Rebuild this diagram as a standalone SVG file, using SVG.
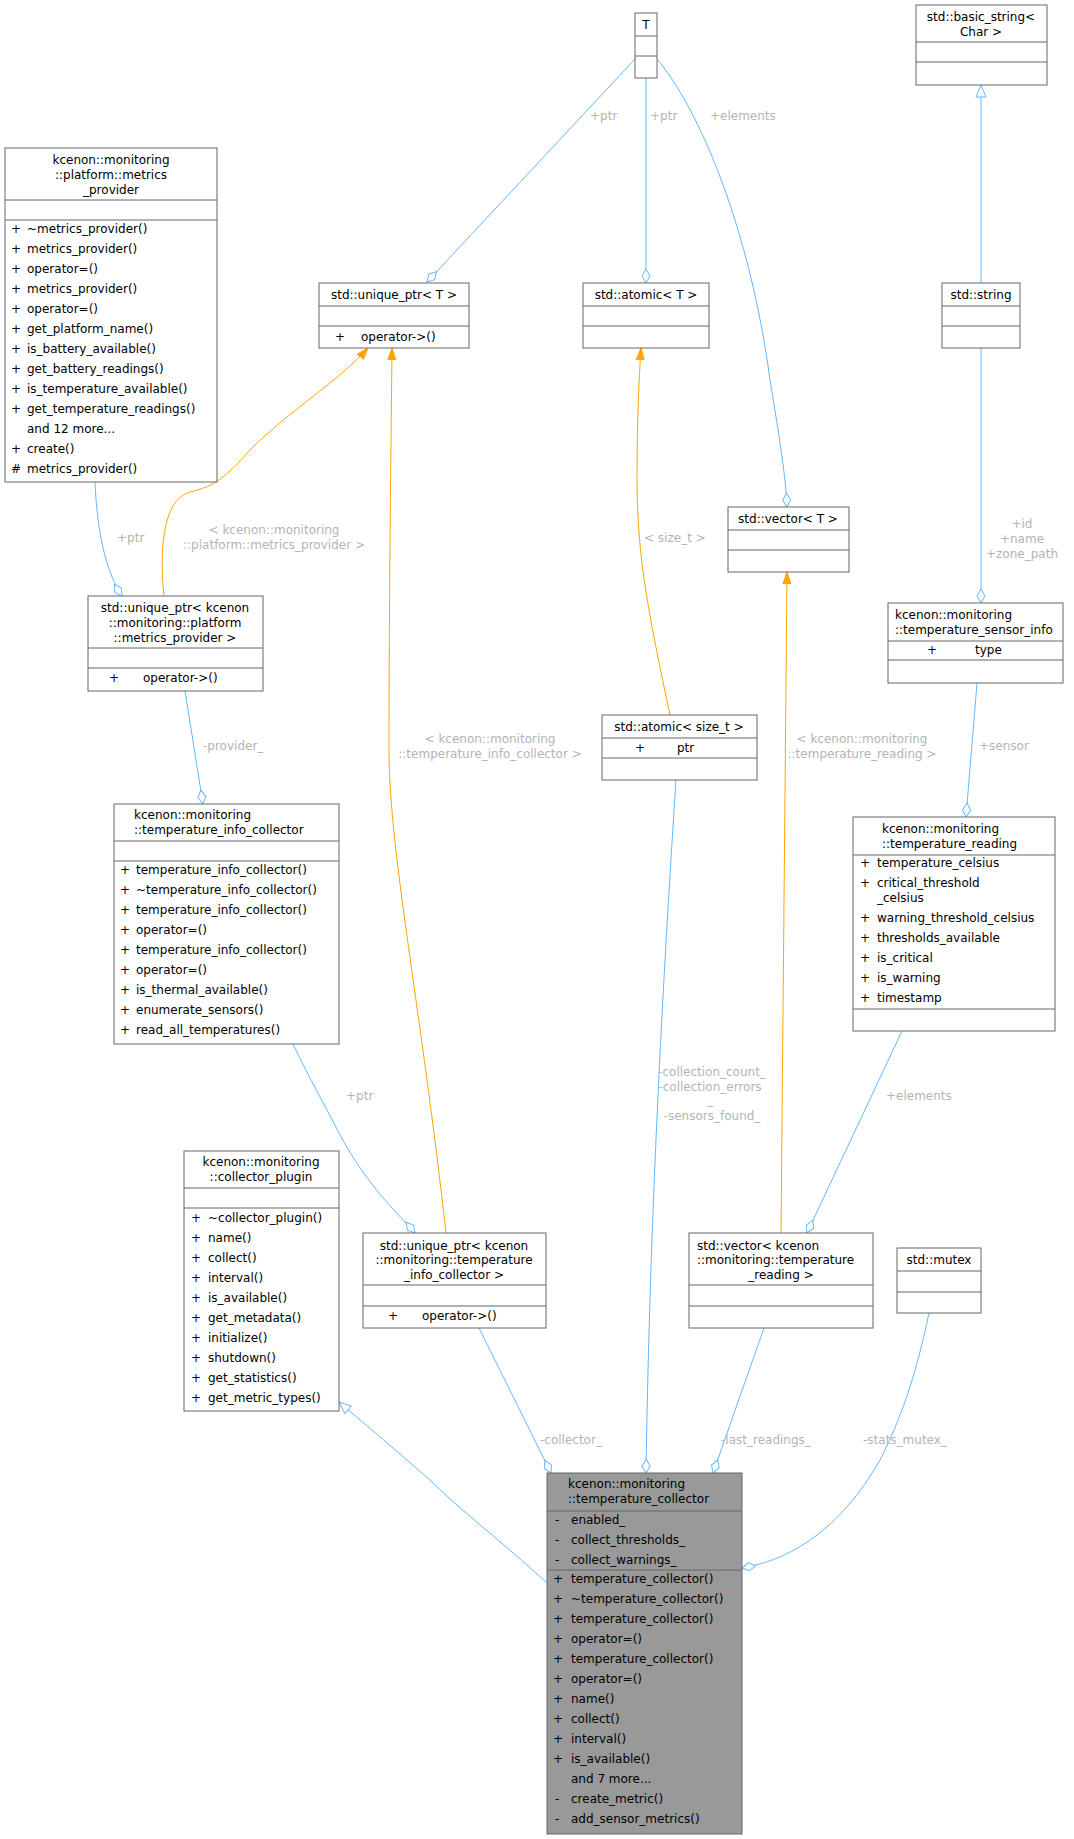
<svg xmlns="http://www.w3.org/2000/svg" width="1074" height="1839" viewBox="0 0 1074 1839">
<style>
text{font-family:"DejaVu Sans",sans-serif;font-size:12px;fill:#000}
.b{fill:#fff;stroke:#666;stroke-width:1}
.g{fill:#999;stroke:#666;stroke-width:1}
.s{stroke:#666;stroke-width:1}
.c{text-anchor:middle}
.lb{fill:#b4b4b4}
.e{fill:none;stroke:#63b8ff;stroke-width:1}
.o{fill:none;stroke:#ffa500;stroke-width:1}
</style>
<defs>
<marker id="dia" viewBox="0 0 16 10" refX="15" refY="5" markerWidth="16" markerHeight="10" markerUnits="userSpaceOnUse" orient="auto"><path d="M1,5 L8,1 L15,5 L8,9 Z" fill="#fff" stroke="#63b8ff"/></marker>
<marker id="tri" viewBox="0 0 12 10" refX="12" refY="5" markerWidth="12" markerHeight="10" markerUnits="userSpaceOnUse" orient="auto"><path d="M0,1 L12,5 L0,9 Z" fill="#ffa500" stroke="#ffa500"/></marker>
<marker id="inh" viewBox="0 0 14 12" refX="13" refY="6" markerWidth="14" markerHeight="12" markerUnits="userSpaceOnUse" orient="auto"><path d="M1,1 L13,6 L1,11 Z" fill="#fff" stroke="#63b8ff"/></marker>
</defs>
<g id="edges">
<path class="e" d="M635,59 L427,282" marker-end="url(#dia)"/>
<text class="lb" x="590" y="120">+ptr</text>
<path class="e" d="M646,78 L646,283" marker-end="url(#dia)"/>
<text class="lb" x="650" y="120">+ptr</text>
<path class="e" d="M657,59 C700,110 750,230 770,380 C780,440 786,480 787,507" marker-end="url(#dia)"/>
<text class="lb" x="710" y="120">+elements</text>
<path class="e" d="M981,283 L981,85" marker-end="url(#inh)"/>
<path class="e" d="M981,348 L981,603" marker-end="url(#dia)"/>
<text class="lb c" x="1022" y="528">+id</text>
<text class="lb c" x="1022" y="543">+name</text>
<text class="lb c" x="1022" y="558">+zone_path</text>
<path class="e" d="M95,482 C97,530 105,570 122,596" marker-end="url(#dia)"/>
<text class="lb" x="117" y="542">+ptr</text>
<path class="o" d="M164,596 C160,560 160,500 190,492 C215,486 225,478 250,450 C290,410 340,380 368,348" marker-end="url(#tri)"/>
<text class="lb c" x="274" y="534">&lt; kcenon::monitoring</text>
<text class="lb c" x="274" y="549">::platform::metrics_provider &gt;</text>
<path class="o" d="M446,1233 C420,1000 389,850 389,750 C389,600 391,450 392,348" marker-end="url(#tri)"/>
<text class="lb c" x="490" y="743">&lt; kcenon::monitoring</text>
<text class="lb c" x="490" y="758">::temperature_info_collector &gt;</text>
<path class="o" d="M670,715 C650,620 637,560 637,480 C637,420 639,380 641,348" marker-end="url(#tri)"/>
<text class="lb" x="644" y="542">&lt; size_t &gt;</text>
<path class="o" d="M781,1233 L787,572" marker-end="url(#tri)"/>
<text class="lb c" x="862" y="743">&lt; kcenon::monitoring</text>
<text class="lb c" x="862" y="758">::temperature_reading &gt;</text>
<path class="e" d="M185,691 L203,804" marker-end="url(#dia)"/>
<text class="lb" x="203" y="750">-provider_</text>
<path class="e" d="M977,683 L966,817" marker-end="url(#dia)"/>
<text class="lb" x="979" y="750">+sensor</text>
<path class="e" d="M293,1044 C310,1080 325,1105 340,1135 C370,1190 400,1215 415,1233" marker-end="url(#dia)"/>
<text class="lb" x="346" y="1100">+ptr</text>
<path class="e" d="M902,1031 L807,1233" marker-end="url(#dia)"/>
<text class="lb" x="886" y="1100">+elements</text>
<path class="e" d="M676,780 C665,950 650,1200 646,1473" marker-end="url(#dia)"/>
<text class="lb c" x="712" y="1076">-collection_count_</text>
<text class="lb c" x="710" y="1091">-collection_errors</text>
<text class="lb c" x="710" y="1104">_</text>
<text class="lb c" x="712" y="1120">-sensors_found_</text>
<path class="e" d="M547,1583 C500,1540 460,1510 430,1480 C390,1445 360,1420 339,1402" marker-end="url(#inh)"/>
<path class="e" d="M479,1328 L551,1473" marker-end="url(#dia)"/>
<text class="lb" x="540" y="1444">-collector_</text>
<path class="e" d="M764,1328 L713,1473" marker-end="url(#dia)"/>
<text class="lb" x="721" y="1444">-last_readings_</text>
<path class="e" d="M929,1313 C915,1380 900,1420 880,1460 C840,1530 790,1560 742,1568" marker-end="url(#dia)"/>
<text class="lb" x="863" y="1444">-stats_mutex_</text>
</g>
<g id="T">
<rect class="b" x="635" y="13" width="22" height="65"/>
<line class="s" x1="635" y1="36" x2="657" y2="36"/><line class="s" x1="635" y1="56" x2="657" y2="56"/>
<text class="c" x="646" y="29">T</text>
</g>
<g id="basic_string">
<rect class="b" x="916" y="5" width="131" height="80"/>
<line class="s" x1="916" y1="42" x2="1047" y2="42"/><line class="s" x1="916" y1="62" x2="1047" y2="62"/>
<text class="c" x="981" y="21">std::basic_string&lt;</text>
<text class="c" x="981" y="36">Char &gt;</text>
</g>
<g id="metrics_provider">
<rect class="b" x="5" y="148" width="212" height="334"/>
<line class="s" x1="5" y1="200" x2="217" y2="200"/><line class="s" x1="5" y1="220" x2="217" y2="220"/>
<text class="c" x="111" y="164">kcenon::monitoring</text>
<text class="c" x="111" y="179">::platform::metrics</text>
<text class="c" x="111" y="194">_provider</text>
<text x="11" y="233">+</text><text x="27" y="233">~metrics_provider()</text>
<text x="11" y="253">+</text><text x="27" y="253">metrics_provider()</text>
<text x="11" y="273">+</text><text x="27" y="273">operator=()</text>
<text x="11" y="293">+</text><text x="27" y="293">metrics_provider()</text>
<text x="11" y="313">+</text><text x="27" y="313">operator=()</text>
<text x="11" y="333">+</text><text x="27" y="333">get_platform_name()</text>
<text x="11" y="353">+</text><text x="27" y="353">is_battery_available()</text>
<text x="11" y="373">+</text><text x="27" y="373">get_battery_readings()</text>
<text x="11" y="393">+</text><text x="27" y="393">is_temperature_available()</text>
<text x="11" y="413">+</text><text x="27" y="413">get_temperature_readings()</text>
<text x="27" y="433">and 12 more...</text>
<text x="11" y="453">+</text><text x="27" y="453">create()</text>
<text x="11" y="473">#</text><text x="27" y="473">metrics_provider()</text>
</g>
<g id="unique_ptr_T">
<rect class="b" x="319" y="283" width="150" height="65"/>
<line class="s" x1="319" y1="306" x2="469" y2="306"/><line class="s" x1="319" y1="326" x2="469" y2="326"/>
<text class="c" x="394" y="299">std::unique_ptr&lt; T &gt;</text>
<text x="335" y="341">+</text><text x="361" y="341">operator-&gt;()</text>
</g>
<g id="atomic_T">
<rect class="b" x="583" y="283" width="126" height="65"/>
<line class="s" x1="583" y1="306" x2="709" y2="306"/><line class="s" x1="583" y1="326" x2="709" y2="326"/>
<text class="c" x="646" y="299">std::atomic&lt; T &gt;</text>
</g>
<g id="string">
<rect class="b" x="942" y="283" width="78" height="65"/>
<line class="s" x1="942" y1="306" x2="1020" y2="306"/><line class="s" x1="942" y1="326" x2="1020" y2="326"/>
<text class="c" x="981" y="299">std::string</text>
</g>
<g id="vector_T">
<rect class="b" x="728" y="507" width="121" height="65"/>
<line class="s" x1="728" y1="530" x2="849" y2="530"/><line class="s" x1="728" y1="550" x2="849" y2="550"/>
<text class="c" x="788" y="523">std::vector&lt; T &gt;</text>
</g>
<g id="unique_ptr_mp">
<rect class="b" x="88" y="596" width="175" height="95"/>
<line class="s" x1="88" y1="648" x2="263" y2="648"/><line class="s" x1="88" y1="668" x2="263" y2="668"/>
<text class="c" x="175" y="612">std::unique_ptr&lt; kcenon</text>
<text class="c" x="175" y="627">::monitoring::platform</text>
<text class="c" x="175" y="642">::metrics_provider &gt;</text>
<text x="109" y="682">+</text><text x="143" y="682">operator-&gt;()</text>
</g>
<g id="temp_sensor_info">
<rect class="b" x="888" y="603" width="175" height="80"/>
<line class="s" x1="888" y1="641" x2="1063" y2="641"/><line class="s" x1="888" y1="660" x2="1063" y2="660"/>
<text x="895" y="619">kcenon::monitoring</text>
<text x="895" y="634">::temperature_sensor_info</text>
<text x="927" y="654">+</text><text x="975" y="654">type</text>
</g>
<g id="atomic_size_t">
<rect class="b" x="602" y="715" width="155" height="65"/>
<line class="s" x1="602" y1="738" x2="757" y2="738"/><line class="s" x1="602" y1="758" x2="757" y2="758"/>
<text class="c" x="679" y="731">std::atomic&lt; size_t &gt;</text>
<text x="635" y="752">+</text><text x="677" y="752">ptr</text>
</g>
<g id="temp_info_collector">
<rect class="b" x="114" y="804" width="225" height="240"/>
<line class="s" x1="114" y1="841" x2="339" y2="841"/><line class="s" x1="114" y1="861" x2="339" y2="861"/>
<text x="134" y="819">kcenon::monitoring</text>
<text x="134" y="834">::temperature_info_collector</text>
<text x="120" y="874">+</text><text x="136" y="874">temperature_info_collector()</text>
<text x="120" y="894">+</text><text x="136" y="894">~temperature_info_collector()</text>
<text x="120" y="914">+</text><text x="136" y="914">temperature_info_collector()</text>
<text x="120" y="934">+</text><text x="136" y="934">operator=()</text>
<text x="120" y="954">+</text><text x="136" y="954">temperature_info_collector()</text>
<text x="120" y="974">+</text><text x="136" y="974">operator=()</text>
<text x="120" y="994">+</text><text x="136" y="994">is_thermal_available()</text>
<text x="120" y="1014">+</text><text x="136" y="1014">enumerate_sensors()</text>
<text x="120" y="1034">+</text><text x="136" y="1034">read_all_temperatures()</text>
</g>
<g id="temp_reading">
<rect class="b" x="853" y="817" width="202" height="214"/>
<line class="s" x1="853" y1="855" x2="1055" y2="855"/><line class="s" x1="853" y1="1009" x2="1055" y2="1009"/>
<text x="882" y="833">kcenon::monitoring</text>
<text x="882" y="848">::temperature_reading</text>
<text x="860" y="867">+</text><text x="877" y="867">temperature_celsius</text>
<text x="860" y="887">+</text><text x="877" y="887">critical_threshold</text>
<text x="877" y="902">_celsius</text>
<text x="860" y="922">+</text><text x="877" y="922">warning_threshold_celsius</text>
<text x="860" y="942">+</text><text x="877" y="942">thresholds_available</text>
<text x="860" y="962">+</text><text x="877" y="962">is_critical</text>
<text x="860" y="982">+</text><text x="877" y="982">is_warning</text>
<text x="860" y="1002">+</text><text x="877" y="1002">timestamp</text>
</g>
<g id="collector_plugin">
<rect class="b" x="184" y="1151" width="155" height="260"/>
<line class="s" x1="184" y1="1188" x2="339" y2="1188"/><line class="s" x1="184" y1="1208" x2="339" y2="1208"/>
<text class="c" x="261" y="1166">kcenon::monitoring</text>
<text class="c" x="261" y="1181">::collector_plugin</text>
<text x="191" y="1222">+</text><text x="208" y="1222">~collector_plugin()</text>
<text x="191" y="1242">+</text><text x="208" y="1242">name()</text>
<text x="191" y="1262">+</text><text x="208" y="1262">collect()</text>
<text x="191" y="1282">+</text><text x="208" y="1282">interval()</text>
<text x="191" y="1302">+</text><text x="208" y="1302">is_available()</text>
<text x="191" y="1322">+</text><text x="208" y="1322">get_metadata()</text>
<text x="191" y="1342">+</text><text x="208" y="1342">initialize()</text>
<text x="191" y="1362">+</text><text x="208" y="1362">shutdown()</text>
<text x="191" y="1382">+</text><text x="208" y="1382">get_statistics()</text>
<text x="191" y="1402">+</text><text x="208" y="1402">get_metric_types()</text>
</g>
<g id="unique_ptr_tic">
<rect class="b" x="363" y="1233" width="183" height="95"/>
<line class="s" x1="363" y1="1285" x2="546" y2="1285"/><line class="s" x1="363" y1="1306" x2="546" y2="1306"/>
<text class="c" x="454" y="1250">std::unique_ptr&lt; kcenon</text>
<text class="c" x="454" y="1264">::monitoring::temperature</text>
<text class="c" x="454" y="1279">_info_collector &gt;</text>
<text x="388" y="1320">+</text><text x="422" y="1320">operator-&gt;()</text>
</g>
<g id="vector_tr">
<rect class="b" x="689" y="1233" width="184" height="95"/>
<line class="s" x1="689" y1="1285" x2="873" y2="1285"/><line class="s" x1="689" y1="1306" x2="873" y2="1306"/>
<text x="697" y="1250">std::vector&lt; kcenon</text>
<text x="697" y="1264">::monitoring::temperature</text>
<text class="c" x="781" y="1279">_reading &gt;</text>
</g>
<g id="mutex">
<rect class="b" x="897" y="1248" width="84" height="65"/>
<line class="s" x1="897" y1="1271" x2="981" y2="1271"/><line class="s" x1="897" y1="1292" x2="981" y2="1292"/>
<text class="c" x="939" y="1264">std::mutex</text>
</g>
<g id="temperature_collector">
<rect class="g" x="547" y="1473" width="195" height="361"/>
<line class="s" x1="547" y1="1511" x2="742" y2="1511"/><line class="s" x1="547" y1="1570" x2="742" y2="1570"/>
<text x="568" y="1488">kcenon::monitoring</text>
<text x="568" y="1503">::temperature_collector</text>
<text x="555" y="1524">-</text><text x="571" y="1524">enabled_</text>
<text x="555" y="1544">-</text><text x="571" y="1544">collect_thresholds_</text>
<text x="555" y="1564">-</text><text x="571" y="1564">collect_warnings_</text>
<text x="553" y="1583">+</text><text x="571" y="1583">temperature_collector()</text>
<text x="553" y="1603">+</text><text x="571" y="1603">~temperature_collector()</text>
<text x="553" y="1623">+</text><text x="571" y="1623">temperature_collector()</text>
<text x="553" y="1643">+</text><text x="571" y="1643">operator=()</text>
<text x="553" y="1663">+</text><text x="571" y="1663">temperature_collector()</text>
<text x="553" y="1683">+</text><text x="571" y="1683">operator=()</text>
<text x="553" y="1703">+</text><text x="571" y="1703">name()</text>
<text x="553" y="1723">+</text><text x="571" y="1723">collect()</text>
<text x="553" y="1743">+</text><text x="571" y="1743">interval()</text>
<text x="553" y="1763">+</text><text x="571" y="1763">is_available()</text>
<text x="571" y="1783">and 7 more...</text>
<text x="555" y="1803">-</text><text x="571" y="1803">create_metric()</text>
<text x="555" y="1823">-</text><text x="571" y="1823">add_sensor_metrics()</text>
</g>
</svg>
